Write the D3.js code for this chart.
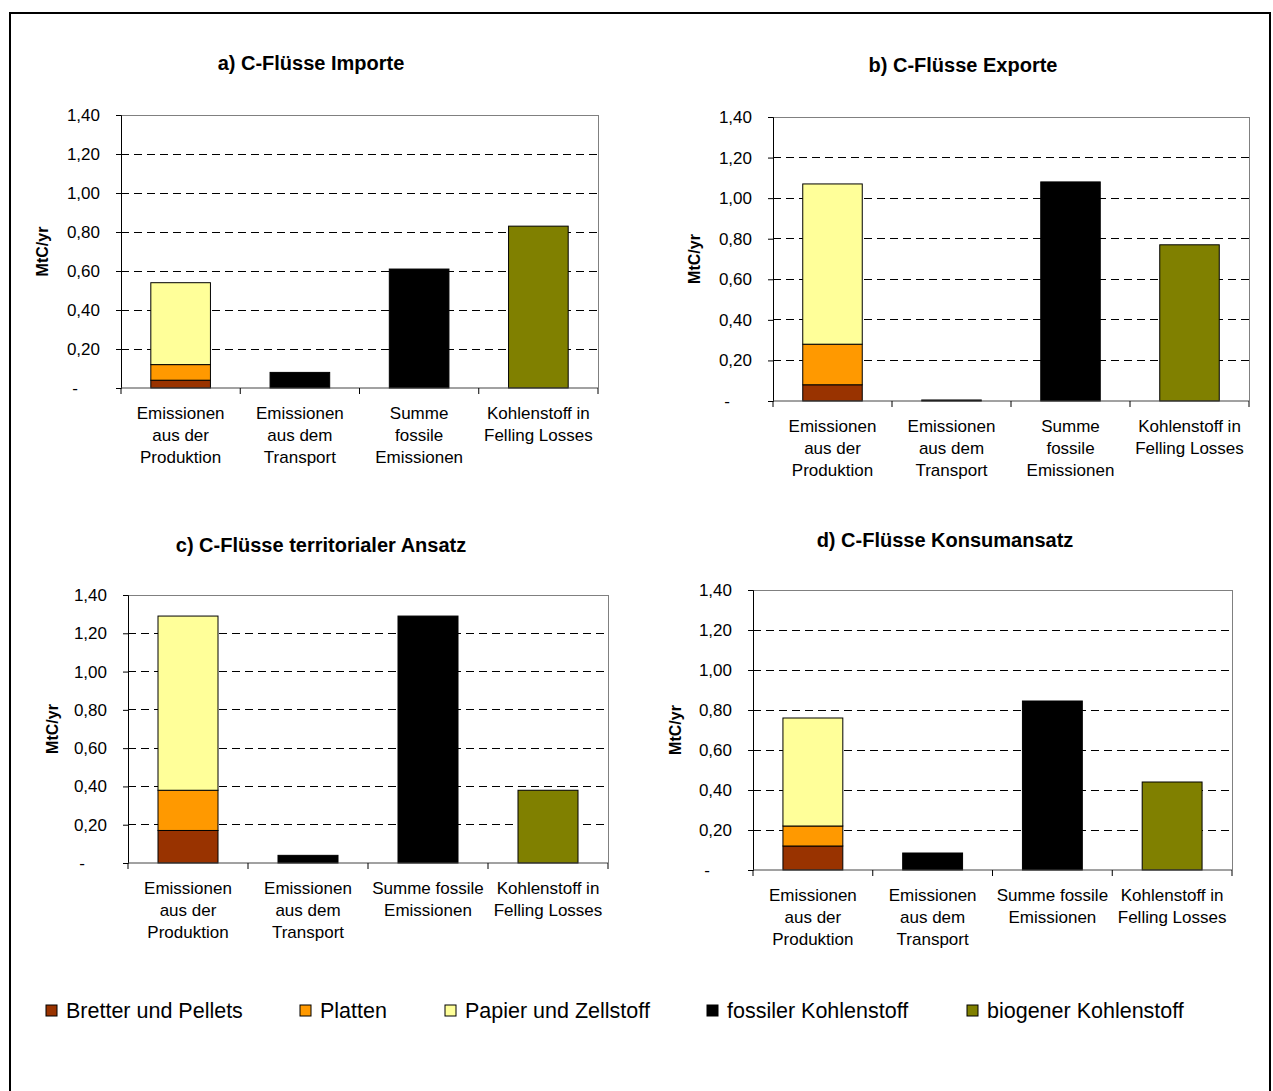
<!DOCTYPE html>
<html><head><meta charset="utf-8">
<script src="https://cdnjs.cloudflare.com/ajax/libs/d3/7.8.5/d3.min.js"></script>
<style>
html,body{margin:0;padding:0;background:#fff;}
svg text{font-family:"Liberation Sans",Arial,sans-serif;fill:#000;}
</style></head>
<body>
<svg id="chart" width="1273" height="1091"></svg>
<script>
// ---------- data ----------
const panelTitles = ["a) C-Flüsse Importe", "b) C-Flüsse Exporte", "c) C-Flüsse territorialer Ansatz", "d) C-Flüsse Konsumansatz"];
const categories = ["Emissionen aus der Produktion", "Emissionen aus dem Transport", "Summe fossile Emissionen", "Kohlenstoff in Felling Losses"];
const categoryLinesAB = [["Emissionen","aus der","Produktion"],["Emissionen","aus dem","Transport"],["Summe","fossile","Emissionen"],["Kohlenstoff in","Felling Losses"]];
const categoryLinesCD = [["Emissionen","aus der","Produktion"],["Emissionen","aus dem","Transport"],["Summe fossile","Emissionen"],["Kohlenstoff in","Felling Losses"]];
const yTicks = [0, 0.2, 0.4, 0.6, 0.8, 1.0, 1.2, 1.4];
const yLabel = "MtC/yr";
// values per panel (a, b, c, d)
const bretterUndPellets = [0.04, 0.08, 0.17, 0.12];
const platten          = [0.08, 0.20, 0.21, 0.10];
const papierZellstoff  = [0.42, 0.79, 0.91, 0.54];
const transportFossil  = [0.08, 0.005, 0.04, 0.085];
const summeFossil      = [0.61, 1.08, 1.29, 0.845];
const feldVerluste     = [0.83, 0.77, 0.38, 0.44];
const legendItems = ["Bretter und Pellets", "Platten", "Papier und Zellstoff", "fossiler Kohlenstoff", "biogener Kohlenstoff"];
const legendColors = ["#993300", "#FF9900", "#FFFF99", "#000000", "#808000"];

// ---------- layout ----------
const panels = [
  {l:121, r:598, t:115, b:388, tx:311, ty:70, ylx:48, lines:categoryLinesAB},
  {l:773, r:1249, t:117, b:401, tx:963, ty:72, ylx:700, lines:categoryLinesAB},
  {l:128, r:608, t:595, b:863, tx:321, ty:552, ylx:58, lines:categoryLinesCD},
  {l:753, r:1232, t:590, b:870, tx:945, ty:547, ylx:681, lines:categoryLinesCD}
];
const svg = d3.select("#chart");
// outer frame
svg.append("rect").attr("x",10).attr("y",13).attr("width",1260).attr("height",1090)
  .attr("fill","none").attr("stroke","#000").attr("stroke-width",2);

const fmt = v => v === 0 ? "-" : d3.format(".2f")(v).replace(".", ",");

panels.forEach((p, i) => {
  const g = svg.append("g");
  const x = d3.scaleBand().domain(categories).range([p.l, p.r]).paddingInner(0.5).paddingOuter(0.25);
  const band = d3.scaleBand().domain(categories).range([p.l, p.r]);
  const y = d3.scaleLinear().domain([0, 1.4]).range([p.b, p.t]);

  // gridlines
  g.selectAll(".grid").data(yTicks.filter(v => v > 0 && v < 1.4)).join("line")
    .attr("x1", p.l).attr("x2", p.r).attr("y1", d => y(d)).attr("y2", d => y(d))
    .attr("stroke", "#000").attr("stroke-dasharray", "8,5").attr("stroke-width", 1)
    .attr("shape-rendering","crispEdges");
  // plot area border top/right
  g.append("path").attr("d", `M${p.l},${y(1.4)}H${p.r}V${p.b}`)
    .attr("fill","none").attr("stroke","#808080").attr("shape-rendering","crispEdges");

  // stacked production bar
  const stack = [
    {v0:0, v1:bretterUndPellets[i], c:legendColors[0]},
    {v0:bretterUndPellets[i], v1:bretterUndPellets[i]+platten[i], c:legendColors[1]},
    {v0:bretterUndPellets[i]+platten[i], v1:bretterUndPellets[i]+platten[i]+papierZellstoff[i], c:legendColors[2]}
  ];
  g.selectAll(".stk").data(stack).join("rect")
    .attr("x", x(categories[0])).attr("width", x.bandwidth())
    .attr("y", d => y(d.v1)).attr("height", d => y(d.v0) - y(d.v1))
    .attr("fill", d => d.c).attr("stroke", "#000").attr("stroke-width", 1);
  const singles = [
    {cat:categories[1], v:transportFossil[i], c:legendColors[3]},
    {cat:categories[2], v:summeFossil[i], c:legendColors[3]},
    {cat:categories[3], v:feldVerluste[i], c:legendColors[4]}
  ];
  g.selectAll(".sgl").data(singles).join("rect")
    .attr("x", d => x(d.cat)).attr("width", x.bandwidth())
    .attr("y", d => y(d.v)).attr("height", d => y(0) - y(d.v))
    .attr("fill", d => d.c).attr("stroke", "#000").attr("stroke-width", 1);

  // y axis
  const ya = g.append("g").attr("transform", `translate(${p.l},0)`)
    .call(d3.axisLeft(y).tickValues(yTicks).tickFormat(fmt).tickSize(5).tickPadding(16));
  ya.select(".domain").attr("stroke","#000");
  ya.selectAll("text").attr("font-size", 17).attr("font-family","Liberation Sans, Arial, sans-serif")
    .attr("dx", d => d === 0 ? -22 : 0);
  // x axis
  const xa = g.append("g").attr("transform", `translate(0,${p.b})`)
    .call(d3.axisBottom(band).tickSize(0).tickFormat(""));
  xa.select(".domain").remove();
  g.append("line").attr("x1", p.l).attr("x2", p.r).attr("y1", p.b).attr("y2", p.b).attr("stroke", "#444");
  const bounds = [p.l, ...categories.map(c => band(c) + band.bandwidth())];
  g.selectAll(".xt").data(bounds).join("line")
    .attr("x1", d => d).attr("x2", d => d).attr("y1", p.b).attr("y2", p.b + 6).attr("stroke", "#000");
  // category labels
  categories.forEach((c, j) => {
    const t = g.append("text").attr("x", band(c) + band.bandwidth()/2).attr("y", p.b + 31)
      .attr("text-anchor","middle").attr("font-size", 17);
    p.lines[j].forEach((ln, k) => t.append("tspan").attr("x", band(c) + band.bandwidth()/2).attr("dy", k === 0 ? 0 : 22).text(ln));
  });
  // title
  g.append("text").attr("x", p.tx).attr("y", p.ty).attr("text-anchor","middle")
    .attr("font-size", 20).attr("font-weight","bold").text(panelTitles[i]);
  // y label
  g.append("text").attr("transform", `translate(${p.ylx},${(p.t + p.b)/2}) rotate(-90)`)
    .attr("text-anchor","middle").attr("font-size", 16).attr("font-weight","bold").text(yLabel);
});

// legend
const legX = [46, 300, 445, 707, 967];
const lg = svg.append("g");
legendItems.forEach((name, k) => {
  lg.append("rect").attr("x", legX[k]).attr("y", 1005).attr("width", 11).attr("height", 11)
    .attr("fill", legendColors[k]).attr("stroke", "#000");
  lg.append("text").attr("x", legX[k] + 20).attr("y", 1018).attr("font-size", 21.5).text(name);
});
</script>
</body></html>
